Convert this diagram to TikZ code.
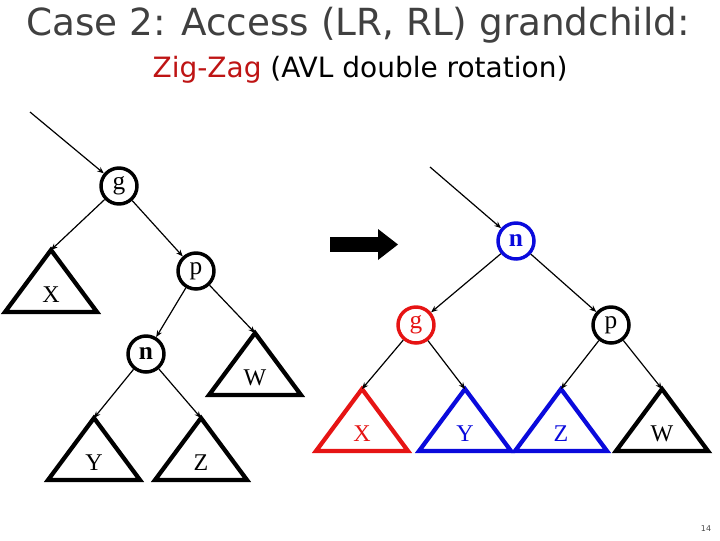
\documentclass[tikz,border=0pt]{standalone}
\usepackage{fontspec}
\setmainfont{Liberation Serif}
\newfontfamily\titlefont{DejaVu Sans}
\usetikzlibrary{arrows.meta}
\definecolor{avlred}{RGB}{230,20,20}
\definecolor{avlblue}{RGB}{10,10,220}
\definecolor{zigred}{RGB}{190,20,20}
% one subtree: name, apex x, apex y, label, colour
\newcommand{\subtree}[5]{%
  \coordinate (#1) at (#2,#3);
  \draw[tri,draw=#5] (#1) -- ++(-46,62) -- ++(92,0) -- cycle;
  \node[lbl,text=#5] at (#2,{#3+45}) {#4};}
\begin{document}
\begin{tikzpicture}[x=0.75pt,y=-0.75pt,
    treenode/.style={circle, draw, line width=2.6pt, minimum size=27pt, inner sep=0pt, font=\fontsize{19}{19}\selectfont},
    tri/.style={line width=3.2pt, line join=miter},
    lbl/.style={font=\fontsize{18}{18}\selectfont},
    edge/.style={-{Stealth[length=5pt,width=4pt]}, line width=0.9pt}]
\useasboundingbox (0,0) rectangle (720,540);

\node[font=\titlefont\fontsize{28}{28}\selectfont, text=black!75] (title) at (358,25) {Case 2: Access (LR, RL) grandchild:};
\node[font=\titlefont\fontsize{21}{21}\selectfont] (sub) at (360,70) {\textcolor{zigred}{Zig-Zag} (AVL double rotation)};

% before
\coordinate (in1) at (30,112);
\node[treenode] (g1) at (119,186) {g};
\node[treenode] (p1) at (196,271) {p};
\node[treenode] (n1) at (146,354) {\textbf{n}};
\subtree{X1}{51}{250}{X}{black}
\subtree{W1}{255}{333}{W}{black}
\subtree{Y1}{94}{418}{Y}{black}
\subtree{Z1}{201}{418}{Z}{black}
\draw[edge] (in1) -- (g1);
\draw[edge] (g1) -- (X1);
\draw[edge] (g1) -- (p1);
\draw[edge] (p1) -- (n1);
\draw[edge] (p1) -- (W1);
\draw[edge] (n1) -- (Y1);
\draw[edge] (n1) -- (Z1);

% big arrow
\fill (330,237) rectangle (380,252);
\fill (378,229) -- (398,244.5) -- (378,260) -- cycle;

% after
\coordinate (in2) at (430,167);
\node[treenode, draw=avlblue, text=avlblue] (n2) at (516,241) {\textbf{n}};
\node[treenode, draw=avlred, text=avlred] (g2) at (416,325) {g};
\node[treenode] (p2) at (611,325) {p};
\subtree{X2}{362}{389}{X}{avlred}
\subtree{Y2}{465}{389}{Y}{avlblue}
\subtree{Z2}{561}{389}{Z}{avlblue}
\subtree{W2}{662}{389}{W}{black}
\draw[edge] (in2) -- (n2);
\draw[edge] (n2) -- (g2);
\draw[edge] (n2) -- (p2);
\draw[edge] (g2) -- (X2);
\draw[edge] (g2) -- (Y2);
\draw[edge] (p2) -- (Z2);
\draw[edge] (p2) -- (W2);

\node[font=\titlefont\fontsize{6}{6}\selectfont, text=black!70] (page) at (706,529) {14};
\end{tikzpicture}
\end{document}
